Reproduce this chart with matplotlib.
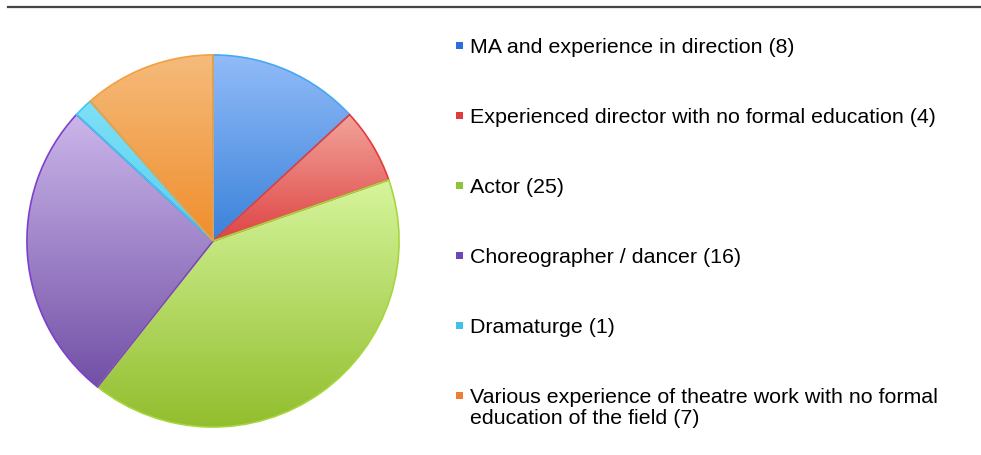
import numpy as np
import matplotlib
matplotlib.use("Agg")
import matplotlib.pyplot as plt
from matplotlib.colors import LinearSegmentedColormap
from matplotlib.patches import Rectangle
from matplotlib.lines import Line2D

labels = [
    "MA and experience in direction (8)",
    "Experienced director with no formal education (4)",
    "Actor (25)",
    "Choreographer / dancer (16)",
    "Dramaturge (1)",
    "Various experience of theatre work with no formal\neducation of the field (7)",
]
values = [8, 4, 25, 16, 1, 7]
top_colors = ["#92bbf8", "#f2a49a", "#d6f59c", "#cbb6ea", "#7ee0f6", "#f5bb7c"]
bottom_colors = ["#3a82da", "#de4444", "#92be2e", "#7250a6", "#58d0f0", "#f08e2c"]
edge_colors = ["#44a8f4", "#e63a3a", "#a6d63e", "#7e40cc", "#40c8f0", "#f2a040"]
marker_colors = ["#2a6ee0", "#e03c3c", "#8cc43a", "#6a48b8", "#40c0ea", "#f07e30"]

W, H = 981, 456
fig = plt.figure(figsize=(W / 100, H / 100), dpi=100)
fig.patch.set_facecolor("white")

cx, cy, r = 213, 242, 187
ax = fig.add_axes([(cx - r) / W, (H - cy - r) / H, 2 * r / W, 2 * r / H])
wedges, _ = ax.pie(values, startangle=90, counterclock=False,
                   wedgeprops=dict(linewidth=1.2))
ax.set_aspect("equal")
ax.axis("off")

for w, tc, bc, ec in zip(wedges, top_colors, bottom_colors, edge_colors):
    ext = w.get_path().get_extents()
    cmap = LinearSegmentedColormap.from_list("g", [bc, tc])
    grad = np.linspace(0, 1, 256).reshape(-1, 1)
    im = ax.imshow(grad, cmap=cmap, origin="lower", aspect="auto",
                   extent=[ext.x0, ext.x1, ext.y0, ext.y1], zorder=1,
                   interpolation="bilinear")
    im.set_clip_path(w)
    w.set_facecolor("none")
    w.set_edgecolor(ec)
    w.set_zorder(2)
ax.set_xlim(-1.005, 1.005)
ax.set_ylim(-1.005, 1.005)

# top rule
fig.add_artist(Line2D([8 / W, 1.0], [1 - 7.5 / H, 1 - 7.5 / H],
                      transform=fig.transFigure, color="#454545", linewidth=1.6))

# legend
row_y = 46
row_step = 70
text_x = 470
for i, (lab, mc) in enumerate(zip(labels, marker_colors)):
    yc = row_y + i * row_step
    fig.add_artist(Rectangle((456 / W, 1 - (yc + 4) / H), 7 / W, 7 / H,
                             transform=fig.transFigure, facecolor=mc,
                             edgecolor="none"))
    for k, line in enumerate(lab.split("\n")):
        yb = yc + 7 + k * 21
        fig.text(text_x / W, 1 - yb / H, line, fontsize=15.4,
                 family="Liberation Sans", color="#000000", va="baseline",
                 ha="left")

fig.savefig("out.png", dpi=100, facecolor="white")
